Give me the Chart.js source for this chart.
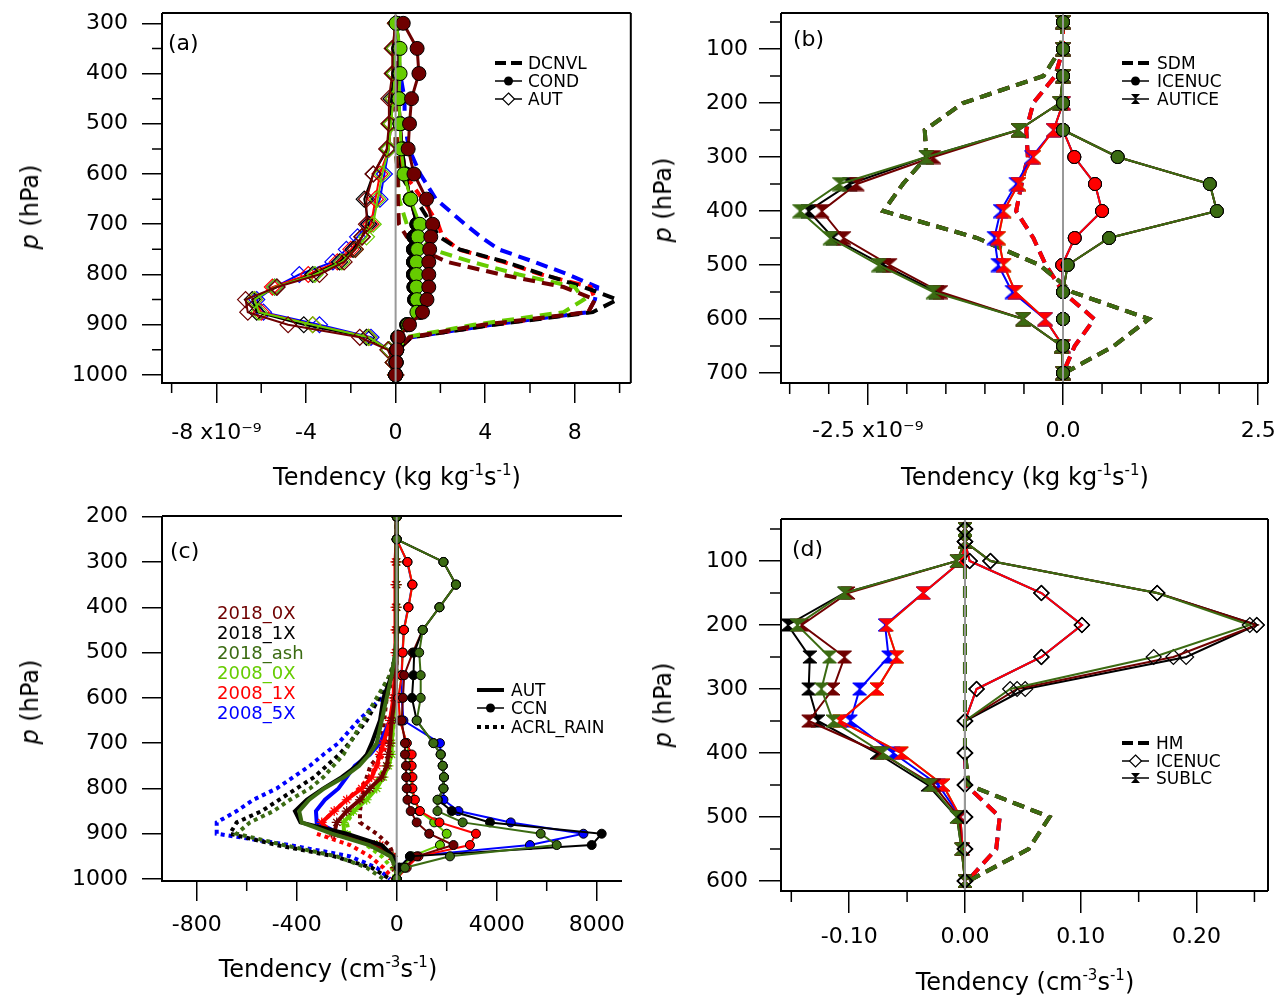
<!DOCTYPE html>
<html>
<head>
<meta charset="utf-8">
<title>Tendency profiles</title>
<script src="https://cdn.jsdelivr.net/npm/chart.js@4.4.1/dist/chart.umd.min.js"></script>
<style>
  body { margin: 0; width: 1280px; height: 999px; position: relative; overflow: hidden; background: #fff; font-family: "DejaVu Sans", sans-serif; color: #000; }
  canvas, .t, .sym { position: absolute; }
  .t { white-space: nowrap; line-height: 1; }
  .ttl { font-size: 24px; transform: translate(-50%, -50%); }
  .ytl { font-size: 24px; transform: translate(-50%, -50%) rotate(-90deg); }
  .ttl sup { font-size: 15px; vertical-align: 10px; line-height: 0; }
  .lab { font-size: 22px; transform: translateY(-50%); }
  .lg { font-size: 17px; transform: translateY(-50%); }
  .sc { font-size: 18px; transform: translateY(-50%); }
</style>
</head>
<body>
<canvas id="pa" width="640" height="500" style="left:0;top:0"></canvas>
<canvas id="pb" width="640" height="500" style="left:640px;top:0"></canvas>
<canvas id="pc" width="640" height="499" style="left:0;top:500px"></canvas>
<canvas id="pd" width="640" height="499" style="left:640px;top:500px"></canvas>

<div class="t lab" style="left:168px;top:43px">(a)</div>
<div class="t lab" style="left:793px;top:39px">(b)</div>
<div class="t lab" style="left:170px;top:551px">(c)</div>
<div class="t lab" style="left:792px;top:549px">(d)</div>

<div class="t ytl" style="left:30px;top:207px"><i>p</i> (hPa)</div>
<div class="t ytl" style="left:663px;top:200px"><i>p</i> (hPa)</div>
<div class="t ytl" style="left:30px;top:702px"><i>p</i> (hPa)</div>
<div class="t ytl" style="left:663px;top:705px"><i>p</i> (hPa)</div>

<div class="t ttl" style="left:397px;top:477px">Tendency (kg kg<sup>-1</sup>s<sup>-1</sup>)</div>
<div class="t ttl" style="left:1025px;top:477px">Tendency (kg kg<sup>-1</sup>s<sup>-1</sup>)</div>
<div class="t ttl" style="left:328px;top:969px">Tendency (cm<sup>-3</sup>s<sup>-1</sup>)</div>
<div class="t ttl" style="left:1025px;top:982px">Tendency (cm<sup>-3</sup>s<sup>-1</sup>)</div>

<div class="t sc" style="left:217px;top:613px;color:#6f0000">2018_0X</div>
<div class="t sc" style="left:217px;top:633px;color:#000">2018_1X</div>
<div class="t sc" style="left:217px;top:653px;color:#3b6b12">2018_ash</div>
<div class="t sc" style="left:217px;top:673px;color:#66cc00">2008_0X</div>
<div class="t sc" style="left:217px;top:693px;color:#ff0000">2008_1X</div>
<div class="t sc" style="left:217px;top:713px;color:#0000ff">2008_5X</div>

<script>
// pressure levels (hPa) of each panel
const levA = [300,350,400,450,500,550,600,650,700,725,750,775,800,825,850,875,900,925,950,975,1000];
const levB = [50,100,150,200,250,300,350,400,450,500,550,600,650,700];
const levC = [200,250,300,350,400,450,500,550,600,650,700,725,750,775,800,825,850,875,900,925,950,975,1000];
const levD = [50,70,100,150,200,250,300,350,400,450,500,550,600];

// (a) x1e-9 kg kg-1 s-1
const aDcnvl08_5X = [0,0.1,0.2,0.4,0.4,0.6,1.1,1.8,3.1,3.8,4.6,6.2,7.7,9.0,8.9,8.6,4.3,0.7,0.1,0,0];
const aDcnvl08_1X = [0,0,0,0,0,0.1,0.4,1.2,1.9,2.1,2.8,4.8,6.5,8.7,8.9,8.6,4.3,0.7,0.1,0,0];
const aDcnvl18_1X = [0,0,0,0,0,0.05,0.2,0.9,1.6,1.95,2.85,4.9,6.6,8.4,9.9,8.8,4.4,0.7,0.1,0,0];
const aDcnvl08_0X = [0,0,0,0,0,0,0.1,0.15,0.5,1.0,1.6,3.4,5.5,8.0,8.4,7.5,3.5,0.45,0.1,0,0];
const aDcnvl18_0X = [0,0,0,0,0,0,0.1,0.1,0.15,0.5,1.1,2.3,4.7,7.5,8.9,8.6,3.9,0.6,0.1,0,0];
const aCond18_0X = [0.34,0.96,1.04,0.71,0.62,0.56,0.82,1.38,1.65,1.57,1.52,1.48,1.48,1.48,1.4,1.2,0.62,0.12,0.05,0.02,0];
const aCond08_0X = [0.02,0.2,0.2,0.15,0.2,0.25,0.37,0.67,1.08,1.0,0.98,0.93,0.93,0.93,0.95,0.95,0.55,0.1,0.05,0.02,0];
const aCondOther = [0.05,0.15,0.15,0.15,0.2,0.3,0.45,0.65,0.95,0.82,0.8,0.8,0.8,0.82,0.85,1.1,0.5,0.1,0.05,0.02,0];
const aAut18_0X = [0,-0.15,-0.15,-0.3,-0.3,-0.4,-1.0,-1.3,-1.3,-1.5,-1.8,-2.3,-3.4,-5.3,-6.7,-6.6,-4.8,-1.6,-0.35,-0.1,0];
const aAut18_1X = [0,-0.1,-0.1,-0.2,-0.25,-0.35,-1.0,-1.4,-1.2,-1.5,-1.9,-2.5,-3.7,-5.3,-6.4,-6.2,-4.1,-1.3,-0.3,-0.1,0];
const aAut08_0X = [0,-0.05,-0.05,-0.1,-0.2,-0.3,-0.6,-0.8,-1.0,-1.3,-1.8,-2.4,-3.6,-5.4,-6.3,-6.1,-3.7,-1.2,-0.3,-0.1,0];
const aAut08_1X = [0,-0.05,-0.05,-0.1,-0.2,-0.3,-0.7,-0.9,-1.1,-1.5,-2.0,-2.6,-3.9,-5.5,-6.3,-6.0,-3.7,-1.2,-0.3,-0.1,0];
const aAut08_5X = [0,-0.05,-0.05,-0.1,-0.2,-0.3,-0.5,-0.7,-1.2,-1.7,-2.2,-2.8,-4.3,-5.4,-6.2,-5.9,-3.4,-1.1,-0.3,-0.1,0];

// (b) x1e-9 kg kg-1 s-1
const bSdm2018 = [0,-0.03,-0.25,-1.28,-1.77,-1.75,-2.05,-2.3,-1.1,-0.3,0.12,1.1,0.65,0.02];
const bSdm2008 = [0,0,-0.1,-0.38,-0.47,-0.45,-0.53,-0.6,-0.38,-0.22,0,0.4,0.15,0];
const bIcenuc2018 = [0,0,0,0,0,0.7,1.88,1.97,0.59,0.06,0,0,0,0];
const bIcenuc2008 = [0,0,0,0,0,0.145,0.41,0.5,0.15,-0.01,0,0,0,0];
const bAutice18_ash = [0,0,0,-0.04,-0.57,-1.75,-2.86,-3.37,-2.98,-2.36,-1.66,-0.51,-0.02,0];
const bAutice18_1X = [0,0,0,-0.04,-0.57,-1.75,-2.73,-3.26,-2.94,-2.3,-1.62,-0.51,-0.02,0];
const bAutice18_0X = [0,0,0,-0.04,-0.57,-1.66,-2.64,-3.09,-2.81,-2.22,-1.57,-0.51,-0.02,0];
const bAutice08 = [0,0,0,0,-0.12,-0.38,-0.57,-0.76,-0.83,-0.76,-0.61,-0.23,0,0];
const bAutice08_5X = [0,0,0,0,-0.12,-0.4,-0.6,-0.8,-0.88,-0.83,-0.65,-0.23,0,0];

// (c) cm-3 s-1
const cAut18_0X = [0,0,0,0,0,0,0,-3,-7,-20,-27,-33,-40,-60,-107,-147,-200,-240,-250,-90,-15,-5,0];
const cAut18_1X = [0,0,0,0,0,0,-5,-20,-53,-67,-100,-120,-160,-220,-293,-360,-407,-385,-200,-60,-15,-3,0];
const cAut18_ash = [0,0,0,0,0,0,-5,-20,-40,-60,-80,-110,-150,-210,-290,-350,-390,-380,-260,-110,-25,-5,0];
const cAut08_0X = [0,0,0,0,0,0,0,-3,-7,-13,-20,-20,-33,-53,-80,-120,-173,-213,-210,-80,-15,-3,0];
const cAut08_1X = [0,0,-5,-5,-5,-5,-5,-8,-13,-27,-53,-67,-80,-100,-140,-200,-250,-300,-260,-67,-20,-5,0];
const cAut08_5X = [0,0,0,0,0,0,0,-3,-7,-27,-67,-107,-167,-200,-233,-287,-323,-320,-227,-67,-13,0,0];
const cCcn18_0X = [0,0,1870,2370,1710,1040,640,300,250,200,330,330,370,380,400,430,560,800,1300,2270,800,300,0];
const cCcn18_1X = [0,0,1870,2370,1710,1040,700,670,610,800,1470,1760,1840,1890,1870,1650,2200,3730,8200,7800,530,100,0];
const cCcn18_ash = [0,0,1870,2370,1710,1040,900,960,960,800,1470,1760,1840,1890,1870,1630,1630,2640,5760,6400,2130,330,0];
const cCcn08_0X = [0,0,430,630,470,290,240,200,70,130,400,500,550,580,600,700,900,1500,2000,1730,600,200,0];
const cCcn08_1X = [0,0,430,630,470,290,240,200,70,130,400,600,600,630,630,730,930,1710,3170,2930,870,400,0];
const cCcn08_5X = [0,0,420,620,460,280,230,190,200,270,1730,1760,1840,1890,1870,1870,2470,4560,7470,5330,530,100,0];
const cAcrl18_0X = [0,0,0,0,0,0,0,-13,-40,-50,-60,-67,-105,-120,-133,-140,-147,-147,-80,-30,-10,-3,0];
const cAcrl18_1X = [0,0,0,0,0,0,0,-27,-70,-120,-190,-230,-280,-330,-400,-470,-540,-640,-667,-480,-250,-100,-27];
const cAcrl18_ash = [0,0,0,0,0,0,0,-27,-80,-133,-187,-213,-253,-293,-347,-427,-493,-587,-640,-453,-240,-120,-53];
const cAcrl08_0X = [0,0,0,0,0,0,0,0,-5,-10,-20,-30,-45,-70,-100,-130,-170,-200,-190,-120,-60,-20,-5];
const cAcrl08_1X = [0,0,0,0,0,0,0,-3,-10,-20,-40,-55,-80,-110,-150,-200,-250,-300,-320,-187,-107,-53,-13];
const cAcrl08_5X = [0,0,0,0,0,0,0,-13,-60,-153,-233,-293,-347,-413,-480,-573,-640,-720,-720,-427,-187,-80,-27];

// (d) cm-3 s-1
const dHm2018 = [0,0,0,0,0,0,0,0,0,0.003,0.073,0.055,0.003];
const dHm2008 = [0,0,0,0,0,0,0,0,0,0.001,0.03,0.027,0.002];
const dIcenuc18_ash = [0,0,0.022,0.166,0.246,0.163,0.039,0,0,0,0,0,0];
const dIcenuc18_0X = [0,0,0.022,0.166,0.252,0.18,0.045,0,0,0,0,0,0];
const dIcenuc18_1X = [0,0,0.022,0.166,0.252,0.191,0.052,0,0,0,0,0,0];
const dIcenuc2008 = [0,0,0.004,0.066,0.101,0.066,0.01,0,0,0,0,0,0];
const dSublc18_ash = [0,0,-0.007,-0.104,-0.145,-0.117,-0.124,-0.114,-0.071,-0.03,-0.007,-0.003,0];
const dSublc18_1X = [0,0,-0.007,-0.104,-0.153,-0.134,-0.135,-0.127,-0.076,-0.032,-0.007,-0.003,0];
const dSublc18_0X = [0,0,-0.007,-0.101,-0.141,-0.104,-0.114,-0.135,-0.073,-0.027,-0.005,-0.003,0];
const dSublc08 = [0,0,-0.003,-0.036,-0.068,-0.059,-0.076,-0.108,-0.055,-0.019,-0.004,-0.002,0];
const dSublc08_5X = [0,0,-0.003,-0.036,-0.069,-0.066,-0.091,-0.099,-0.062,-0.023,-0.004,-0.002,0];

// axis ticks
const aMajX = [-8,-4,0,4,8], aMinX = [-10,-6,-2,2,6,10];
const aMajY = [300,400,500,600,700,800,900,1000], aMinY = [350,450,550,650,750,850,950];
const bMajX = [-2.5,0,2.5], bMinX = [-3.5,-3,-2,-1.5,-1,-0.5,0.5,1,1.5,2];
const bMajY = [100,200,300,400,500,600,700], bMinY = [50,150,250,350,450,550,650];
const cMajX = [-800,-400,0,400,800], cMinX = [-600,-200,200,600]; // positive side shown x10
const cMajY = [200,300,400,500,600,700,800,900,1000];
const dMajX = [-0.1,0,0.1,0.2], dMinX = [-0.15,-0.05,0.05,0.15,0.25];
const dMajY = [100,200,300,400,500,600], dMinY = [50,150,250,350,450,550];

const MAROON = '#6f0000', BLACK = '#000000', ASH = '#3b6b12', LGREEN = '#66cc00', RED = '#ff0000', BLUE = '#0000ff';

Chart.defaults.font.family = 'DejaVu Sans';
Chart.defaults.color = '#000';

function hourglass(color, w, h) {
  const c = document.createElement('canvas');
  c.width = w + 2; c.height = h + 2;
  const g = c.getContext('2d');
  g.fillStyle = color; g.strokeStyle = color; g.lineWidth = 1;
  g.beginPath();
  g.moveTo(1, 1); g.lineTo(w + 1, 1); g.lineTo(1, h + 1); g.lineTo(w + 1, h + 1);
  g.closePath(); g.fill(); g.stroke();
  return c;
}

function series(levels, vals, color, style, axis) {
  const ds = Object.assign({
    data: levels.map((p, i) => ({ x: vals[i], y: p })),
    showLine: true, borderColor: color, backgroundColor: color,
    borderWidth: 2, pointRadius: 0
  }, style);
  if (axis) ds.xAxisID = axis;
  return ds;
}
const dash = { borderWidth: 4, borderDash: [12, 7] };
const dots = { borderWidth: 4, borderDash: [4, 4] };
const thick = { borderWidth: 4 };
function circ(color, r, w) {
  return { borderWidth: w, pointStyle: 'circle', pointRadius: r, pointBackgroundColor: color, pointBorderColor: '#000', pointBorderWidth: 1 };
}
function diam(edge, r) {
  return { pointStyle: 'rectRot', pointRadius: r, pointBackgroundColor: 'rgba(255,255,255,0)', pointBorderColor: edge, pointBorderWidth: 1.2 };
}
function bow(color, w, h) {
  return { pointStyle: hourglass(color, w, h), pointRadius: 7 };
}
function star(color) {
  return { borderWidth: 4, pointStyle: 'star', pointRadius: 5, pointBorderColor: color, pointBorderWidth: 1.2 };
}

function xAxis(min, max, majors, fmt, tl, pad, h) {
  return {
    type: 'linear', position: 'bottom', min: min, max: max,
    grid: { drawOnChartArea: false, drawTicks: true, tickLength: tl, color: '#000', lineWidth: 1.5 },
    border: { display: false },
    ticks: { font: { size: 22 }, color: '#000', padding: pad, maxRotation: 0, autoSkip: false, callback: fmt },
    afterBuildTicks: s => { s.ticks = majors.map(v => ({ value: v })); },
    afterFit: s => { s.height = h; s.paddingLeft = 0; s.paddingRight = 0; }
  };
}
function yAxis(min, max, majors, tl, pad, w) {
  return {
    type: 'linear', position: 'left', reverse: true, min: min, max: max,
    grid: { drawOnChartArea: false, drawTicks: true, tickLength: tl, color: '#000', lineWidth: 1.5 },
    border: { display: false },
    ticks: { font: { size: 22 }, color: '#000', padding: pad, autoSkip: false, callback: v => String(v) },
    afterBuildTicks: s => { s.ticks = majors.map(v => ({ value: v })); },
    afterFit: s => { s.width = w; s.paddingTop = 0; s.paddingBottom = 0; }
  };
}

// zero line, frame and minor ticks
function framePlugin(minX, minY, len, right) {
  return {
    id: 'frame',
    afterDatasetsDraw(chart) {
      const ctx = chart.ctx, a = chart.chartArea, sx = chart.scales.x, sy = chart.scales.y;
      const x0 = sx.getPixelForValue(0);
      ctx.save();
      ctx.strokeStyle = '#999'; ctx.lineWidth = 2;
      ctx.beginPath(); ctx.moveTo(x0, a.top); ctx.lineTo(x0, a.bottom); ctx.stroke();
      ctx.strokeStyle = '#000'; ctx.lineWidth = 2;
      ctx.beginPath();
      ctx.moveTo(a.left, a.top); ctx.lineTo(a.right, a.top);
      ctx.moveTo(a.left, a.top); ctx.lineTo(a.left, a.bottom); ctx.lineTo(a.right, a.bottom);
      if (right) { ctx.moveTo(a.right, a.top); ctx.lineTo(a.right, a.bottom); }
      ctx.stroke();
      ctx.lineWidth = 1.5;
      ctx.beginPath();
      minX.forEach(v => { const px = sx.getPixelForValue(v); ctx.moveTo(px, a.bottom); ctx.lineTo(px, a.bottom + len); });
      minY.forEach(v => { const py = sy.getPixelForValue(v); ctx.moveTo(a.left, py); ctx.lineTo(a.left - len, py); });
      ctx.stroke();
      ctx.restore();
    }
  };
}

function panel(id, datasets, scales, pad, plugin) {
  return new Chart(document.getElementById(id), {
    type: 'scatter',
    data: { datasets: datasets.slice().reverse() },  // first dataset is drawn on top
    options: {
      responsive: false, animation: false, events: [],
      layout: { padding: pad },
      plugins: { legend: { display: false }, tooltip: { enabled: false } },
      scales: scales
    },
    plugins: [plugin]
  });
}

// (a)
panel('pa', [
  series(levA, aDcnvl08_5X, BLUE, dash),
  series(levA, aDcnvl08_1X, RED, dash),
  series(levA, aDcnvl18_1X, BLACK, dash),
  series(levA, aDcnvl08_0X, LGREEN, dash),
  series(levA, aDcnvl18_0X, MAROON, dash),
  series(levA, aAut08_5X, BLUE, diam(BLUE, 8)),
  series(levA, aAut08_1X, RED, diam(RED, 8)),
  series(levA, aAut18_1X, BLACK, diam(BLACK, 8)),
  series(levA, aAut08_0X, LGREEN, diam(LGREEN, 8)),
  series(levA, aAut18_0X, MAROON, diam(MAROON, 8)),
  series(levA, aCondOther, BLUE, circ(BLUE, 7, 3)),
  series(levA, aCondOther, RED, circ(RED, 7, 3)),
  series(levA, aCondOther, BLACK, circ(BLACK, 7, 3)),
  series(levA, aCond08_0X, LGREEN, circ(LGREEN, 7, 3)),
  series(levA, aCond18_0X, MAROON, circ(MAROON, 7, 3))
], {
  x: xAxis(-10.43, 10.5, aMajX, v => v === -8 ? '-8 x10\u207B\u2079' : String(v), 20, 17, 117),
  y: yAxis(279.5, 1016, aMajY, 20, 14, 162)
}, { left: 0, top: 13, right: 7, bottom: 0 }, framePlugin(aMinX, aMinY, 10, true));

// (b)
const scenB = [[LGREEN, bSdm2008, bAutice08, bIcenuc2008], [BLUE, bSdm2008, bAutice08_5X, bIcenuc2008],
  [RED, bSdm2008, bAutice08, bIcenuc2008], [BLACK, bSdm2018, bAutice18_1X, bIcenuc2018],
  [MAROON, bSdm2018, bAutice18_0X, bIcenuc2018], [ASH, bSdm2018, bAutice18_ash, bIcenuc2018]];
panel('pb', [].concat(
  scenB.map(s => series(levB, s[1], s[0], dash)),
  scenB.map(s => series(levB, s[2], s[0], bow(s[0], 15, 13))),
  scenB.map(s => series(levB, s[3], s[0], circ(s[0], 6.5, 2)))
), {
  x: xAxis(-3.611, 2.625, bMajX, v => v === -2.5 ? '-2.5 x10\u207B\u2079' : v.toFixed(1), 22, 13, 117),
  y: yAxis(33.3, 718.5, bMajY, 22, 11, 141)
}, { left: 0, top: 13, right: 12, bottom: 0 }, framePlugin(bMinX, bMinY, 11, true));

// (c)
const scenC = [[BLUE, cAcrl08_5X, cAut08_5X, cCcn08_5X, false], [LGREEN, cAcrl08_0X, cAut08_0X, cCcn08_0X, true],
  [RED, cAcrl08_1X, cAut08_1X, cCcn08_1X, true], [MAROON, cAcrl18_0X, cAut18_0X, cCcn18_0X, true],
  [BLACK, cAcrl18_1X, cAut18_1X, cCcn18_1X, false], [ASH, cAcrl18_ash, cAut18_ash, cCcn18_ash, false]];
panel('pc', [].concat(
  scenC.map(s => series(levC, s[1], s[0], dots)),
  scenC.map(s => series(levC, s[2], s[0], s[4] ? star(s[0]) : thick)),
  scenC.map(s => series(levC, s[3], s[0], circ(s[0], 4.5, 2), 'xPos'))
), {
  x: xAxis(-938.8, 901.2, cMajX, v => String(v > 0 ? v * 10 : v), 20, 11, 118),
  xPos: { type: 'linear', display: false, min: -9388, max: 9012 },
  y: yAxis(198.5, 1004.4, cMajY, 20, 14, 162)
}, { left: 0, top: 16, right: 18, bottom: 0 }, framePlugin(cMinX, [], 10, false));

// (d)
const scenD = [[LGREEN, dHm2008, dSublc08, dIcenuc2008], [BLUE, dHm2008, dSublc08_5X, dIcenuc2008],
  [RED, dHm2008, dSublc08, dIcenuc2008], [BLACK, dHm2018, dSublc18_1X, dIcenuc18_1X],
  [MAROON, dHm2018, dSublc18_0X, dIcenuc18_0X], [ASH, dHm2018, dSublc18_ash, dIcenuc18_ash]];
panel('pd', [].concat(
  scenD.map(s => series(levD, s[1], s[0], dash)),
  scenD.map(s => series(levD, s[2], s[0], bow(s[0], 14, 12))),
  scenD.map(s => series(levD, s[3], s[0], diam('#000', 7.5)))
), {
  x: xAxis(-0.1589, 0.2617, dMajX, v => v.toFixed(2), 22, 11, 108),
  y: yAxis(34.4, 615.6, dMajY, 22, 11, 141)
}, { left: 0, top: 19, right: 12, bottom: 0 }, framePlugin(dMinX, dMinY, 11, true));

// legends
const sym = {
  dash: '<line x1="0" y1="9" x2="27" y2="9" stroke="#000" stroke-width="4" stroke-dasharray="11,5"/>',
  dot: '<line x1="0" y1="9" x2="27" y2="9" stroke="#000" stroke-width="4" stroke-dasharray="4,4"/>',
  thick: '<line x1="0" y1="9" x2="27" y2="9" stroke="#000" stroke-width="4"/>',
  circle: '<line x1="0" y1="9" x2="27" y2="9" stroke="#000" stroke-width="1.5"/><circle cx="13.5" cy="9" r="4.5" fill="#000"/>',
  diamond: '<line x1="0" y1="9" x2="27" y2="9" stroke="#000" stroke-width="1.5"/><path d="M13.5 3 L19.5 9 L13.5 15 L7.5 9 Z" fill="#fff" stroke="#000" stroke-width="1.2"/>',
  bowtie: '<line x1="0" y1="9" x2="27" y2="9" stroke="#000" stroke-width="1.5"/><path d="M9 4 L18 4 L9 14 L18 14 Z" fill="#000"/>'
};
function legend(x, tx, rows) {
  rows.forEach(r => {
    document.body.insertAdjacentHTML('beforeend',
      '<svg class="sym" width="28" height="18" style="left:' + x + 'px;top:' + (r[0] - 9) + 'px">' + sym[r[1]] + '</svg>' +
      '<div class="t lg" style="left:' + tx + 'px;top:' + r[0] + 'px">' + r[2] + '</div>');
  });
}
legend(495, 528, [[63, 'dash', 'DCNVL'], [81, 'circle', 'COND'], [99, 'diamond', 'AUT']]);
legend(1122, 1157, [[63, 'dash', 'SDM'], [81, 'circle', 'ICENUC'], [99, 'bowtie', 'AUTICE']]);
legend(477, 511, [[690, 'thick', 'AUT'], [708, 'circle', 'CCN'], [727, 'dot', 'ACRL_RAIN']]);
legend(1122, 1156, [[743, 'dash', 'HM'], [761, 'diamond', 'ICENUC'], [778, 'bowtie', 'SUBLC']]);
</script>
</body>
</html>
